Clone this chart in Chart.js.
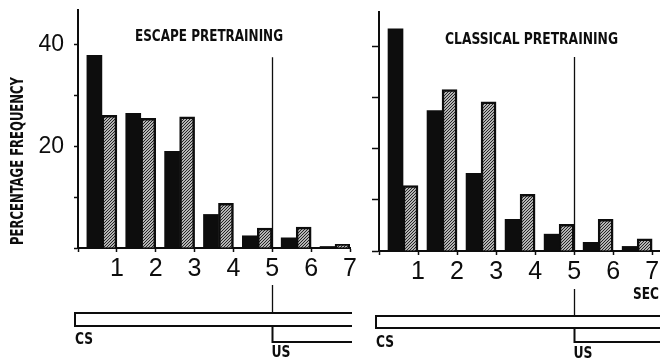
<!DOCTYPE html>
<html>
<head>
<meta charset="utf-8">
<script src="https://cdn.jsdelivr.net/npm/chart.js@4.4.0/dist/chart.umd.min.js"></script>
<style>
  html, body { margin: 0; padding: 0; background: #fff; }
  #wrap { position: relative; width: 660px; height: 360px; overflow: hidden; background: #fff; }
  canvas { position: absolute; top: 0; }
  #escape { left: 0; }
  #classical { left: 360px; }
</style>
</head>
<body>
<div id="wrap">
  <canvas id="escape" width="365" height="360"></canvas>
  <canvas id="classical" width="300" height="360"></canvas>
</div>
<script>
// Latency bins (seconds after CS onset) and their labels
const secondLabels = ['1', '2', '3', '4', '5', '6', '7'];
const binMidpoints = [0.5, 1.5, 2.5, 3.5, 4.5, 5.5, 6.5];
const yTickLabels = [20, 40];
const panelTitles = ['ESCAPE PRETRAINING', 'CLASSICAL PRETRAINING'];
const usOnset = 5;

// Percentage frequency per bin
const escapeSolid      = [37.9, 26.5, 19.0, 6.6, 2.4, 2.0, 0.3];
const escapeHatched    = [26.1, 25.5, 25.8, 8.8, 3.9, 4.1, 0.7];
const classicalSolid   = [43.5, 27.5, 15.2, 6.2, 3.3, 1.7, 0.9];
const classicalHatched = [12.8, 31.6, 29.2, 11.1, 5.2, 6.2, 2.4];

const NARROW = "'Liberation Sans Narrow', 'DejaVu Sans Condensed', 'Liberation Sans', sans-serif";
const PLAIN = "'Liberation Sans', 'DejaVu Sans', sans-serif";
const INK = '#0d0d0d';

// fine "////" hatching
function hatchPattern() {
  const n = 3;
  const t = document.createElement('canvas');
  t.width = n; t.height = n;
  const c = t.getContext('2d');
  c.fillStyle = '#f2f2f2';
  c.fillRect(0, 0, n, n);
  c.strokeStyle = '#1a1a1a';
  c.lineWidth = 1.1;
  c.beginPath();
  c.moveTo(-1, n + 1); c.lineTo(n + 1, -1);
  c.moveTo(-1, 1); c.lineTo(1, -1);
  c.moveTo(n - 1, n + 1); c.lineTo(n + 1, n - 1);
  c.stroke();
  return c.createPattern(t, 'repeat');
}

function toPoints(values) {
  return binMidpoints.map((x, i) => ({ x, y: values[i] }));
}

// Text squeezed horizontally to a given width, like stencil lettering
function fitText(ctx, text, x, y, width, align, rotation) {
  ctx.save();
  ctx.translate(x, y);
  if (rotation) ctx.rotate(rotation);
  const w = ctx.measureText(text).width;
  ctx.scale(width / w, 1);
  ctx.textAlign = align;
  ctx.textBaseline = 'middle';
  ctx.fillText(text, 0, 0);
  ctx.restore();
}

// Stimulus marker, panel title and CS/US timing diagram
const decor = {
  id: 'decor',
  afterDraw(chart, args, o) {
    const ctx = chart.ctx;
    const xs = chart.scales.x, ys = chart.scales.y;
    const xUS = Math.round(xs.getPixelForValue(usOnset)) + 0.5;
    const xCS = xs.getPixelForValue(0) - 3;
    ctx.save();
    ctx.strokeStyle = INK;
    ctx.fillStyle = INK;

    // US onset marker through the plot
    ctx.lineWidth = 1.3;
    ctx.beginPath();
    ctx.moveTo(xUS, ys.getPixelForValue(o.usTop));
    ctx.lineTo(xUS, ys.getPixelForValue(0));
    ctx.moveTo(xUS, o.markTop);
    ctx.lineTo(xUS, o.csTop);
    ctx.stroke();

    // CS bar (open on the right) and US step
    ctx.lineWidth = 2;
    ctx.beginPath();
    ctx.moveTo(o.csEnd, o.csTop);
    ctx.lineTo(xCS, o.csTop);
    ctx.lineTo(xCS, o.csBottom);
    ctx.lineTo(o.csEnd, o.csBottom);
    ctx.moveTo(xUS, o.csBottom);
    ctx.lineTo(xUS, o.usBottom);
    ctx.lineTo(o.csEnd, o.usBottom);
    ctx.stroke();

    ctx.font = 'bold 15px ' + NARROW;
    fitText(ctx, 'CS', xCS, o.csLabelY, 18, 'left');
    fitText(ctx, 'US', xUS - 1, o.usLabelY, 19, 'left');

    // panel heading
    ctx.font = 'bold 16px ' + NARROW;
    fitText(ctx, o.title, o.titleX, o.titleY, o.titleW, 'center');

    if (o.yTitle) {
      ctx.font = 'bold 17px ' + NARROW;
      fitText(ctx, o.yTitle, 19, ys.getPixelForValue(0) - 3, 168, 'left', -Math.PI / 2);
    }
    if (o.sec) {
      ctx.font = 'bold 15px ' + NARROW;
      fitText(ctx, o.sec, xs.right - 1, 295, 26, 'right');
    }
    ctx.restore();
  }
};

function panel(id, cfg) {
  const shift = 0.115;
  return new Chart(document.getElementById(id), {
    type: 'bar',
    data: {
      datasets: [
        {
          label: cfg.name + ' solid',
          data: toPoints(cfg.solid),
          xAxisID: 'xb',
          backgroundColor: INK,
          borderWidth: 0,
          barThickness: 15
        },
        {
          label: cfg.name + ' hatched',
          data: toPoints(cfg.hatched),
          xAxisID: 'xb',
          backgroundColor: hatchPattern(),
          borderColor: INK,
          borderWidth: 2.5,
          borderSkipped: 'bottom',
          barThickness: 15
        }
      ]
    },
    options: {
      responsive: false,
      animation: false,
      events: [],
      layout: { padding: { top: cfg.top, right: cfg.padRight, left: 0, bottom: 0 } },
      plugins: {
        legend: { display: false },
        tooltip: { enabled: false },
        decor: cfg.decor
      },
      scales: {
        x: {
          type: 'linear',
          position: 'bottom',
          offset: false,
          min: 0,
          max: cfg.xMax,
          afterFit: s => { s.height = cfg.xHeight; s.paddingLeft = 0; s.paddingRight = 0; },
          border: { display: true, color: INK, width: 2 },
          grid: { display: true, offset: false, drawOnChartArea: false, drawTicks: true, tickLength: 4, tickWidth: 1.5, tickColor: INK },
          ticks: {
            stepSize: 1,
            includeBounds: false,
            autoSkip: false,
            maxRotation: 0,
            padding: 2,
            color: INK,
            font: { family: PLAIN, size: 25 },
            callback: v => (Number.isInteger(v) && v >= 1 && v <= secondLabels.length) ? secondLabels[v - 1] : ''
          }
        },
        xb: {
          type: 'linear',
          display: false,
          offset: false,
          min: -shift,
          max: cfg.xMax - shift
        },
        y: {
          type: 'linear',
          position: 'left',
          min: 0,
          max: 46.8,
          afterFit: s => { s.width = cfg.yWidth; s.paddingTop = 0; s.paddingBottom = 0; },
          border: { display: true, color: INK, width: 2 },
          grid: { display: true, drawOnChartArea: false, drawTicks: true, tickLength: cfg.yTick, tickWidth: 1.5, tickColor: INK },
          ticks: {
            stepSize: 10,
            includeBounds: false,
            padding: 10,
            color: INK,
            font: { family: PLAIN, size: 23 },
            callback: v => (cfg.yLabels && yTickLabels.includes(v)) ? String(v) : ''
          }
        }
      }
    },
    plugins: [decor]
  });
}

panel('escape', {
  name: 'escape',
  solid: escapeSolid,
  hatched: escapeHatched,
  top: 10, padRight: 15, xMax: 7, xHeight: 112, yWidth: 78, yTick: 4, yLabels: true,
  decor: {
    title: panelTitles[0], titleX: 209, titleY: 37, titleW: 148,
    usTop: 37.5, markTop: 285, csTop: 313, csBottom: 326, usBottom: 342,
    csLabelY: 340, usLabelY: 353, csEnd: 352,
    yTitle: 'PERCENTAGE FREQUENCY'
  }
});

panel('classical', {
  name: 'classical',
  solid: classicalSolid,
  hatched: classicalHatched,
  top: 12, padRight: 0, xMax: 7.2, xHeight: 109, yWidth: 19, yTick: 7, yLabels: false,
  decor: {
    title: panelTitles[1], titleX: 171.5, titleY: 40, titleW: 173,
    usTop: 38, markTop: 289, csTop: 316, csBottom: 328, usBottom: 342,
    csLabelY: 343, usLabelY: 354, csEnd: 300,
    sec: 'SEC'
  }
});
</script>
</body>
</html>
